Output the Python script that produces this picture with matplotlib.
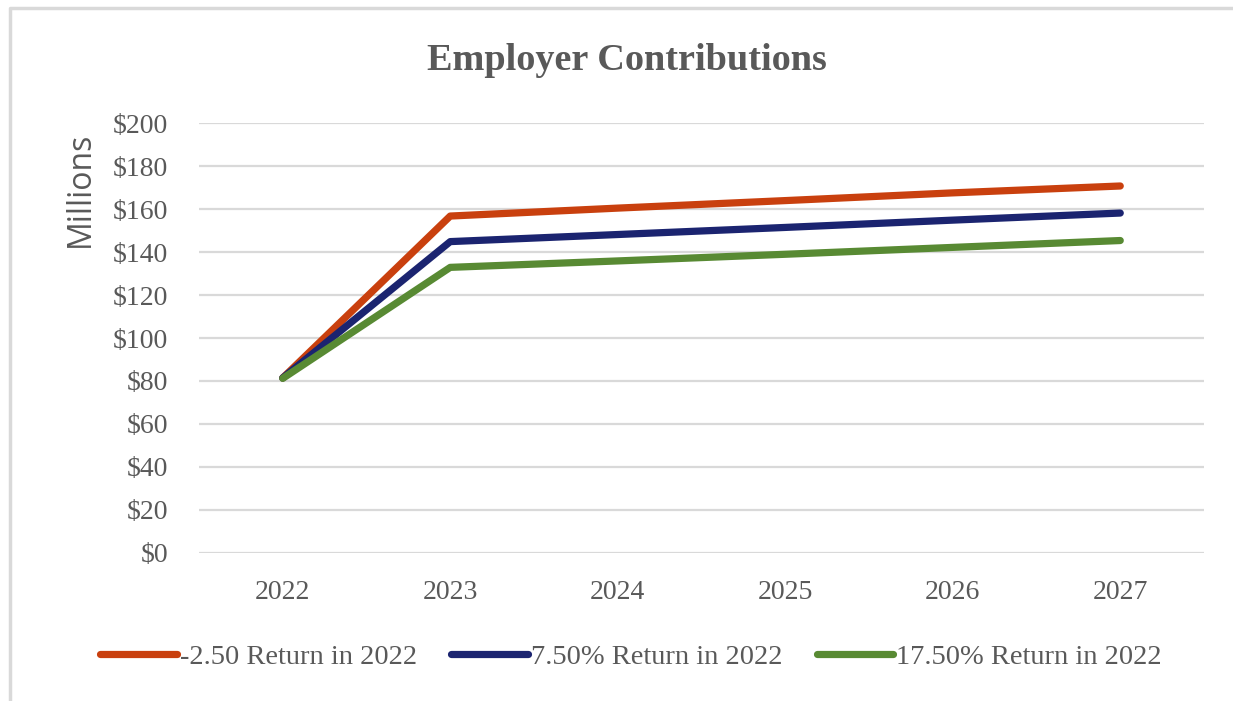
import matplotlib.pyplot as plt
from matplotlib.lines import Line2D

years = ['2022', '2023', '2024', '2025', '2026', '2027']
neg_250 = [81.4, 156.8, 160.5, 164.0, 167.6, 170.8]
pos_750 = [81.4, 144.9, 148.2, 151.5, 154.9, 158.2]
pos_1750 = [81.2, 132.9, 135.9, 139.0, 142.2, 145.4]
labels = ['-2.50 Return in 2022', '7.50% Return in 2022', '17.50% Return in 2022']
colors = ['#C9400E', '#1B2470', '#588A33']
yticks = list(range(0, 201, 20))

grey = '#595959'
serif = ['Liberation Serif', 'DejaVu Serif']

fig = plt.figure(figsize=(12.33, 7.01), dpi=100)
ax = fig.add_axes([199 / 1233, 1 - 552.7 / 701, (1204 - 199) / 1233, (552.7 - 123.3) / 701])

x = list(range(len(years)))
for vals, lab, c in zip([neg_250, pos_750, pos_1750], labels, colors):
    ax.plot(x, vals, color=c, lw=5.2, label=lab, solid_capstyle='round', solid_joinstyle='round')

ax.set_xlim(-0.5, len(years) - 0.5)
ax.set_ylim(0, 200)
ax.set_yticks(yticks)
ax.set_yticklabels(['$%d' % v for v in yticks])
ax.set_xticks(x)
ax.set_xticklabels(years)
ax.grid(axis='y', color='#d9d9d9', lw=1.6)
ax.set_axisbelow(True)
for s in ax.spines.values():
    s.set_visible(False)
ax.tick_params(length=0, colors=grey, labelsize=20)
ax.tick_params(axis='y', pad=22)
ax.tick_params(axis='x', pad=20)
for t in ax.get_xticklabels() + ax.get_yticklabels():
    t.set_family(serif)

fig.text(627 / 1233, 1 - 61 / 701, 'Employer Contributions', ha='center', va='center',
         family=serif, fontweight='bold', fontsize=27.5, color=grey)
fig.text(80 / 1233, 1 - 189 / 701, 'Millions', rotation=90, ha='center', va='center',
         family=['Open Sans', 'DejaVu Sans'], fontsize=23, color=grey)

handles = [Line2D([], [], color=c, lw=5.2, solid_capstyle='round') for c in colors]
fig.legend(handles, labels, loc='center', bbox_to_anchor=(631 / 1233, 1 - 657 / 701), ncol=3,
           frameon=False, handlelength=2.7, handletextpad=0.1, columnspacing=1.2,
           prop={'family': serif, 'size': 20.5}, labelcolor=grey)

# chart border (top and left visible)
fig.add_artist(Line2D([10 / 1233, 10 / 1233, 1], [0, 1 - 8 / 701, 1 - 8 / 701],
                      transform=fig.transFigure, color='#d9d9d9', lw=2.5))

fig.savefig('out.png', dpi=100)
